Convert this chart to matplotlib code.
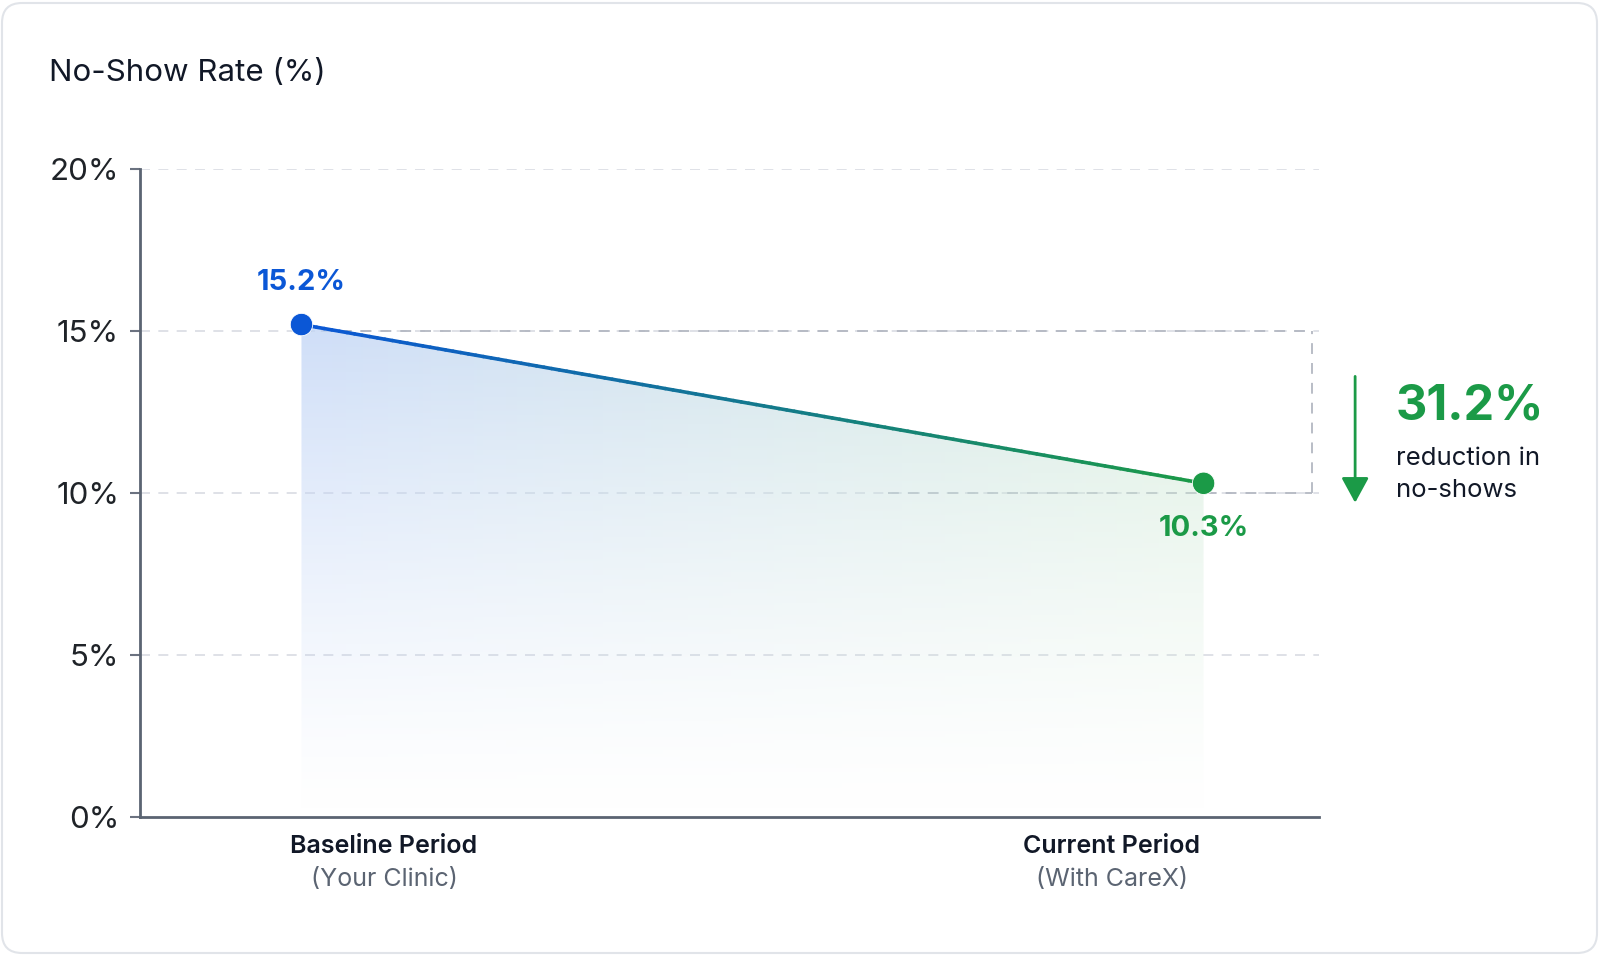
import matplotlib
matplotlib.use('Agg')
import matplotlib.pyplot as plt
import numpy as np
from matplotlib.collections import LineCollection
from matplotlib.colors import LinearSegmentedColormap, to_rgb
from matplotlib.patches import FancyBboxPatch

plt.rcParams['font.family'] = ['Inter', 'DejaVu Sans']

# data
periods = ['Baseline Period', 'Current Period']
period_notes = ['(Your Clinic)', '(With CareX)']
rates = [15.2, 10.3]
rate_labels = ['15.2%', '10.3%']
y_ticks = [0, 5, 10, 15, 20]
y_tick_labels = ['0%', '5%', '10%', '15%', '20%']
reduction_label = '31.2%'
reduction_text = 'reduction in\nno-shows'
bracket_levels = [10, 15]

BLUE = '#0b57d6'
GREEN = '#1b9a47'
DARK = '#111827'
GRAY = '#5b6472'

fig = plt.figure(figsize=(16, 9.55), dpi=100)
fig.patch.set_facecolor('white')

# card background with rounded border
card = FancyBboxPatch((0.02, 0.02), 15.95, 9.5,
                      boxstyle='round,pad=0,rounding_size=0.2',
                      transform=fig.dpi_scale_trans,
                      facecolor='white', edgecolor='#e1e4e9', linewidth=1.5, zorder=0)
fig.add_artist(card)

ax = fig.add_axes([0.0875, 0.1445, 0.7369, 0.6785])
ax.set_facecolor('none')
x = np.arange(len(rates))

# gradient area under the line
u = np.linspace(0, 1, 256)
v = np.linspace(0, 1, 256)
c0 = np.array(to_rgb('#c3d6f7'))
c1 = np.array(to_rgb('#d2ebd8'))
rgb = c0[None, None, :] * (1 - u[None, :, None]) + c1[None, None, :] * u[None, :, None]
rgb = np.repeat(rgb, len(v), axis=0)
alpha = (v ** 1.3 * 0.8)[:, None, None] * np.ones((1, len(u), 1))
img = np.concatenate([rgb, alpha], axis=2)
im = ax.imshow(img, extent=[x[0], x[-1], 0, max(rates)], origin='lower',
               aspect='auto', zorder=1, interpolation='bilinear')
poly = ax.fill_between(x, rates, 0, color='none', linewidth=0)
im.set_clip_path(poly.get_paths()[0], transform=ax.transData)

# gridlines
for yv in y_ticks[1:]:
    ax.axhline(yv, color='#d9dce3', lw=1.2, ls=(0, (6, 5)), zorder=0.5)

# dashed bracket between 15% and 10%
bx = 1.12
ax.plot([x[0], bx], [bracket_levels[1], bracket_levels[1]], color='#b3b8c2', lw=1.3,
        ls=(0, (6, 5)), zorder=0.6)
ax.plot([x[-1] - 0.35, bx], [bracket_levels[0], bracket_levels[0]], color='#b3b8c2', lw=1.3,
        ls=(0, (6, 5)), zorder=0.6)
ax.plot([bx, bx], bracket_levels, color='#b3b8c2', lw=1.3, ls=(0, (6, 5)), zorder=0.6,
        clip_on=False)

# gradient line
t = np.linspace(0, 1, 120)
xs = x[0] + (x[-1] - x[0]) * t
ys = rates[0] + (rates[-1] - rates[0]) * t
pts = np.column_stack([xs, ys]).reshape(-1, 1, 2)
segs = np.concatenate([pts[:-1], pts[1:]], axis=1)
cmap = LinearSegmentedColormap.from_list('bg', [BLUE, GREEN])
lc = LineCollection(segs, cmap=cmap, array=t[:-1], linewidth=2.6, capstyle='round', zorder=3)
ax.add_collection(lc)

ax.scatter(x, rates, s=260, c=[BLUE, GREEN], zorder=4, edgecolors='white', linewidths=0.6)

ax.annotate(rate_labels[0], (x[0], rates[0]), xytext=(0, 42), textcoords='offset pixels',
            ha='center', va='center', fontsize=21, fontweight='bold', color=BLUE)
ax.annotate(rate_labels[1], (x[-1], rates[-1]), xytext=(0, -45), textcoords='offset pixels',
            ha='center', va='center', fontsize=21, fontweight='bold', color=GREEN)

# axes styling
ax.set_xlim(-0.179, 1.128)
ax.set_ylim(0, 20)
ax.set_yticks(y_ticks, y_tick_labels)
ax.set_xticks([])
ax.tick_params(axis='y', labelsize=22.5, labelcolor='#1f2328', color='#6b7280',
               length=7, width=1.5, pad=8)
for side in ['top', 'right']:
    ax.spines[side].set_visible(False)
for side in ['left', 'bottom']:
    ax.spines[side].set_color(GRAY)
    ax.spines[side].set_linewidth(2)

# category labels
label_pos = [0.207, 0.824]
for pos, name, note in zip(label_pos, periods, period_notes):
    ax.text(pos, -0.046, name, transform=ax.transAxes, ha='center', va='center',
            fontsize=18, fontweight='semibold', color=DARK)
    ax.text(pos, -0.097, note, transform=ax.transAxes, ha='center', va='center',
            fontsize=18, color='#5b6472')

# reduction arrow and callout
ax.annotate('', xy=(1.168, 9.7), xytext=(1.168, 13.6), annotation_clip=False,
            arrowprops=dict(arrowstyle='-|>,head_length=0.55,head_width=0.3',
                            color=GREEN, lw=2, mutation_scale=28, shrinkA=0, shrinkB=0))
fig.text(1396 / 1600, 1 - 406 / 955, reduction_label, fontsize=35, fontweight='bold',
         color=GREEN, ha='left', va='center')
fig.text(1396 / 1600, 1 - 474 / 955, reduction_text, fontsize=18.5, color=DARK,
         ha='left', va='center', linespacing=1.5)

fig.text(49 / 1600, 1 - 73 / 955, 'No-Show Rate (%)', fontsize=22.5, color=DARK,
         ha='left', va='center')

fig.savefig('out.png', dpi=100)
